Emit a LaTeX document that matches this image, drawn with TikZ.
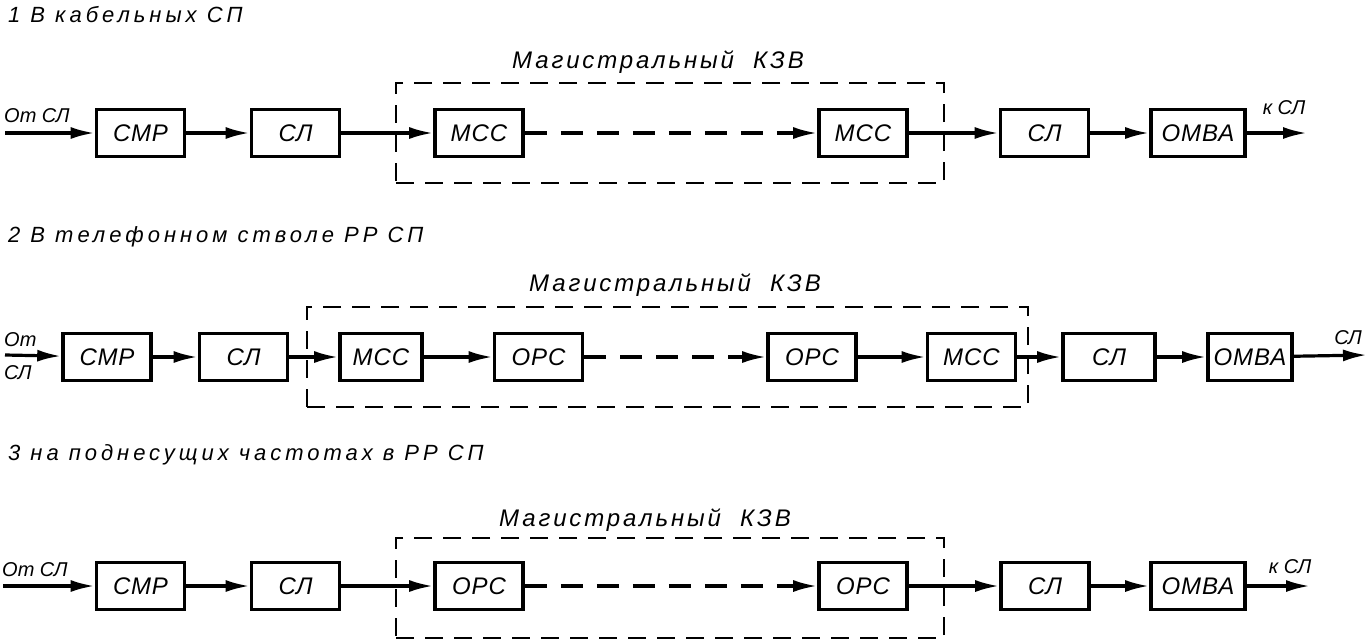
\documentclass[tikz,border=0pt]{standalone}
\usepackage{fontspec}
\setmainfont{Liberation Sans}
\usetikzlibrary{arrows.meta, positioning}
\tikzset{
  blok/.style={
    rectangle, draw=black, line width=3.6pt,
    minimum width=88pt, minimum height=47pt, inner sep=0pt,
    font=\fontsize{24}{26}\selectfont\itshape\addfontfeatures{LetterSpace=4},
  },
  arrow/.style={-{Latex[length=24pt, width=12pt]}, line width=3.2pt},
  dasharrow/.style={arrow, dash pattern=on 22pt off 14pt},
  ramka/.style={
    rectangle, draw=black, line width=2.2pt,
    dash pattern=on 18pt off 11pt, inner sep=0pt,
  },
  zagolovok/.style={anchor=west, inner sep=0pt,
    font=\fontsize{22}{24}\selectfont\itshape\addfontfeatures{LetterSpace=18}},
  podpis/.style={inner sep=0pt,
    font=\fontsize{24}{26}\selectfont\itshape\addfontfeatures{LetterSpace=12}},
  vhod/.style={inner sep=0pt, font=\fontsize{20}{22}\selectfont\itshape},
}
\begin{document}
\begin{tikzpicture}[x=1pt, y=-1pt]
  \useasboundingbox (0,0) rectangle (1368,641);

  % 1 -- cable systems
  \node[zagolovok] (t1) at (8,15) {1 В кабельных СП};
  \node[ramka, minimum width=548pt, minimum height=100pt] (kzv1) at (670,133) {};
  \node[podpis] (m1) at (658,62) {Магистральный\ \ КЗВ};
  \coordinate (in1) at (5,133);
  \coordinate (out1) at (1307,133);
  \node[vhod, anchor=west] (ot1) at (4,116) {От СЛ};
  \node[vhod] (k1) at (1284,108) {к СЛ};
  \node[blok] (smr1) at (140.5,133) {СМР};
  \node[blok] (sla1) at (295.5,133) {СЛ};
  \node[blok] (mssa1) at (479,133) {МСС};
  \node[blok] (mssb1) at (863,133) {МСС};
  \node[blok] (slb1) at (1044.5,133) {СЛ};
  \node[blok, minimum width=94pt] (omva1) at (1198,133) {ОМВА};

  \draw[arrow] (in1) -- (smr1);
  \draw[arrow] (smr1) -- (sla1);
  \draw[arrow] (sla1) -- (mssa1);
  \draw[dasharrow] (mssa1) -- (mssb1);
  \draw[arrow] (mssb1) -- (slb1);
  \draw[arrow] (slb1) -- (omva1);
  \draw[arrow] (omva1) -- (out1);

  % 2 -- telephone trunk of radio relay
  \node[zagolovok] (t2) at (8,237) {2 В телефонном стволе РР СП};
  \node[ramka, minimum width=721pt, minimum height=100pt] (kzv2) at (667.5,357) {};
  \node[podpis] (m2) at (675,285) {Магистральный\ \ КЗВ};
  \coordinate (in2) at (5,355);
  \coordinate (out2) at (1367,355);
  \node[vhod, anchor=west] (ot2) at (4,340) {От};
  \node[vhod, anchor=west] (ot2b) at (4,373) {СЛ};
  \node[vhod] (k2) at (1348,338) {СЛ};
  \node[blok] (smr2) at (107,357) {СМР};
  \node[blok] (sla2) at (243.5,357) {СЛ};
  \node[blok, minimum width=82pt] (mssa2) at (381,357) {МСС};
  \node[blok] (orsa2) at (538.5,357) {ОРС};
  \node[blok] (orsb2) at (812,357) {ОРС};
  \node[blok] (mssb2) at (971.5,357) {МСС};
  \node[blok, minimum width=92pt] (slb2) at (1109,357) {СЛ};
  \node[blok, minimum width=84pt] (omva2) at (1250,357) {ОМВА};

  \draw[arrow] (in2) -- (smr2);
  \draw[arrow] (smr2) -- (sla2);
  \draw[arrow] (sla2) -- (mssa2);
  \draw[arrow] (mssa2) -- (orsa2);
  \draw[dasharrow] (orsa2) -- (orsb2);
  \draw[arrow] (orsb2) -- (mssb2);
  \draw[arrow] (mssb2) -- (slb2);
  \draw[arrow] (slb2) -- (omva2);
  \draw[arrow] (omva2) -- (out2);

  % 3 -- subcarriers of radio relay
  \node[zagolovok] (t3) at (8,455) {3 на поднесущих частотах в РР СП};
  \node[ramka, minimum width=548pt, minimum height=100pt] (kzv3) at (670,588) {};
  \node[podpis] (m3) at (645,520) {Магистральный\ \ КЗВ};
  \coordinate (in3) at (3,586);
  \coordinate (out3) at (1310,586);
  \node[vhod, anchor=west] (ot3) at (2,570) {От СЛ};
  \node[vhod] (k3) at (1290,567) {к СЛ};
  \node[blok] (smr3) at (140.5,586) {СМР};
  \node[blok] (sla3) at (295.5,586) {СЛ};
  \node[blok] (orsa3) at (479,586) {ОРС};
  \node[blok] (orsb3) at (863,586) {ОРС};
  \node[blok] (slb3) at (1045,586) {СЛ};
  \node[blok, minimum width=94pt] (omva3) at (1198,586) {ОМВА};

  \draw[arrow] (in3) -- (smr3);
  \draw[arrow] (smr3) -- (sla3);
  \draw[arrow] (sla3) -- (orsa3);
  \draw[dasharrow] (orsa3) -- (orsb3);
  \draw[arrow] (orsb3) -- (slb3);
  \draw[arrow] (slb3) -- (omva3);
  \draw[arrow] (omva3) -- (out3);

\end{tikzpicture}
\end{document}
